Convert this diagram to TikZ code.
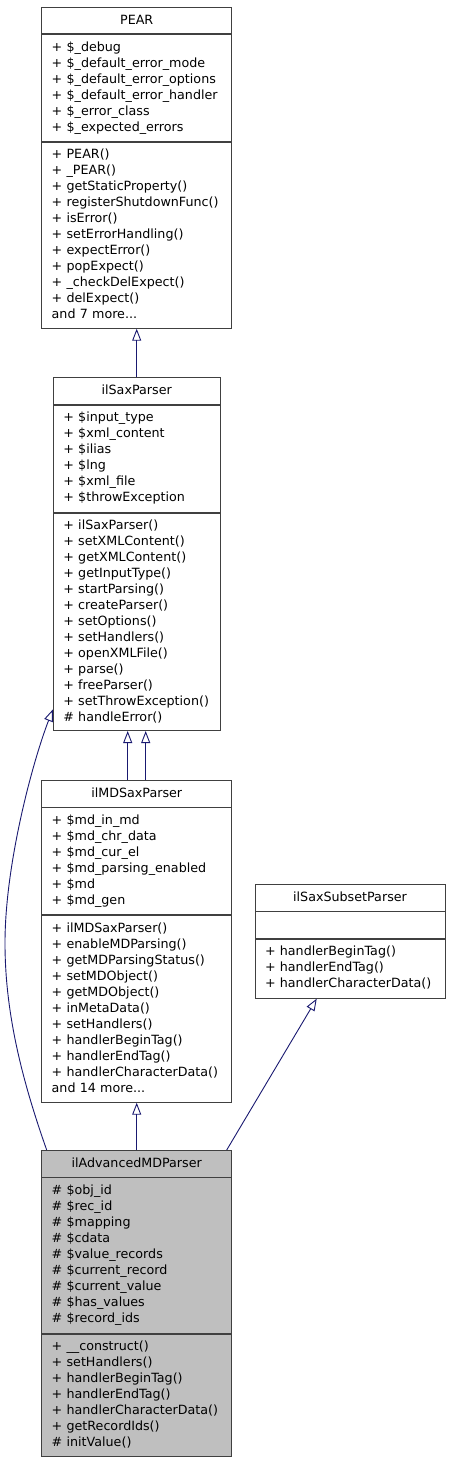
\documentclass[tikz,border=0pt]{standalone}
\usepackage{fontspec}
\setmainfont{DejaVu Sans}
\usetikzlibrary{positioning,arrows.meta}
\definecolor{edgeblue}{HTML}{191970}
\definecolor{boxline}{HTML}{404040}
\definecolor{curfill}{HTML}{BFBFBF}

\begin{document}
\begin{tikzpicture}[x=1pt,y=-1pt]

	\tikzstyle{header} = [rectangle,draw=boxline,line width=0.9pt,anchor=north,inner sep=0pt,minimum height=26.5pt,text height=9.5pt,text depth=2.5pt,font=\fontsize{12.7}{16}\selectfont]
	\tikzstyle{fields} = [rectangle,draw=boxline,line width=0.9pt,inner xsep=10pt,inner ysep=0pt,align=left,font=\fontsize{12.7}{16}\selectfont,execute at begin node=\strut,execute at end node=\strut]
	\tikzstyle{current} = [fill=curfill]
	\tikzstyle{herit} = [-{Triangle[open,length=12pt,width=9pt]},draw=edgeblue,line width=0.9pt]

	\useasboundingbox (0,0) rectangle (450,1461);

	\node[header,minimum width=190pt] (pear) at (136.7,7) {PEAR};
	\node[fields,text width=170pt,minimum height=106.5pt,below=0pt of pear] (pear-a) {+ \$\_debug\\+ \$\_default\_error\_mode\\+ \$\_default\_error\_options\\+ \$\_default\_error\_handler\\+ \$\_error\_class\\+ \$\_expected\_errors};
	\node[fields,text width=170pt,minimum height=186pt,below=0pt of pear-a] (pear-m) {+ PEAR()\\+ \_PEAR()\\+ getStaticProperty()\\+ registerShutdownFunc()\\+ isError()\\+ setErrorHandling()\\+ expectError()\\+ popExpect()\\+ \_checkDelExpect()\\+ delExpect()\\and 7 more...};

	\node[header,minimum width=166.7pt] (sax) at (136.7,377.3) {ilSaxParser};
	\node[fields,text width=146.7pt,minimum height=107pt,below=0pt of sax] (sax-a) {+ \$input\_type\\+ \$xml\_content\\+ \$ilias\\+ \$lng\\+ \$xml\_file\\+ \$throwException};
	\node[fields,text width=146.7pt,minimum height=217.5pt,below=0pt of sax-a] (sax-m) {+ ilSaxParser()\\+ setXMLContent()\\+ getXMLContent()\\+ getInputType()\\+ startParsing()\\+ createParser()\\+ setOptions()\\+ setHandlers()\\+ openXMLFile()\\+ parse()\\+ freeParser()\\+ setThrowException()\\\# handleError()};

	\node[header,minimum width=190pt] (md) at (136.7,780) {ilMDSaxParser};
	\node[fields,text width=170pt,minimum height=107pt,below=0pt of md] (md-a) {+ \$md\_in\_md\\+ \$md\_chr\_data\\+ \$md\_cur\_el\\+ \$md\_parsing\_enabled\\+ \$md\\+ \$md\_gen};
	\node[fields,text width=170pt,minimum height=186.5pt,below=0pt of md-a] (md-m) {+ ilMDSaxParser()\\+ enableMDParsing()\\+ getMDParsingStatus()\\+ setMDObject()\\+ getMDObject()\\+ inMetaData()\\+ setHandlers()\\+ handlerBeginTag()\\+ handlerEndTag()\\+ handlerCharacterData()\\and 14 more...};

	\node[header,minimum width=190pt] (sub) at (350,884) {ilSaxSubsetParser};
	\node[fields,text width=170pt,minimum height=26.5pt,below=0pt of sub] (sub-a) {};
	\node[fields,text width=170pt,minimum height=59pt,below=0pt of sub-a] (sub-m) {+ handlerBeginTag()\\+ handlerEndTag()\\+ handlerCharacterData()};

	\node[header,current,minimum width=190pt] (adv) at (136.7,1150) {ilAdvancedMDParser};
	\node[fields,current,text width=170pt,minimum height=155.5pt,below=0pt of adv] (adv-a) {\# \$obj\_id\\\# \$rec\_id\\\# \$mapping\\\# \$cdata\\\# \$value\_records\\\# \$current\_record\\\# \$current\_value\\\# \$has\_values\\\# \$record\_ids};
	\node[fields,current,text width=170pt,minimum height=122pt,below=0pt of adv-a] (adv-m) {+ \_\_construct()\\+ setHandlers()\\+ handlerBeginTag()\\+ handlerEndTag()\\+ handlerCharacterData()\\+ getRecordIds()\\\# initValue()};

	\draw[herit] (sax) -- (pear-m);
	\draw[herit] ([xshift=-9pt]md.north) -- ([xshift=-9pt]sax-m.south);
	\draw[herit] ([xshift=9pt]md.north) -- ([xshift=9pt]sax-m.south);
	\draw[herit] (adv) -- (md-m);
	\draw[herit] ([xshift=90pt]adv.north) -- ([xshift=-33.3pt]sub-m.south);
	\draw[herit] ([xshift=-90pt]adv.north) .. controls (22,1080) and (5,1013) .. (5,943) .. controls (5,863) and (33.3,759.7) .. ([yshift=21.6pt]sax-m.south west);

\end{tikzpicture}
\end{document}
